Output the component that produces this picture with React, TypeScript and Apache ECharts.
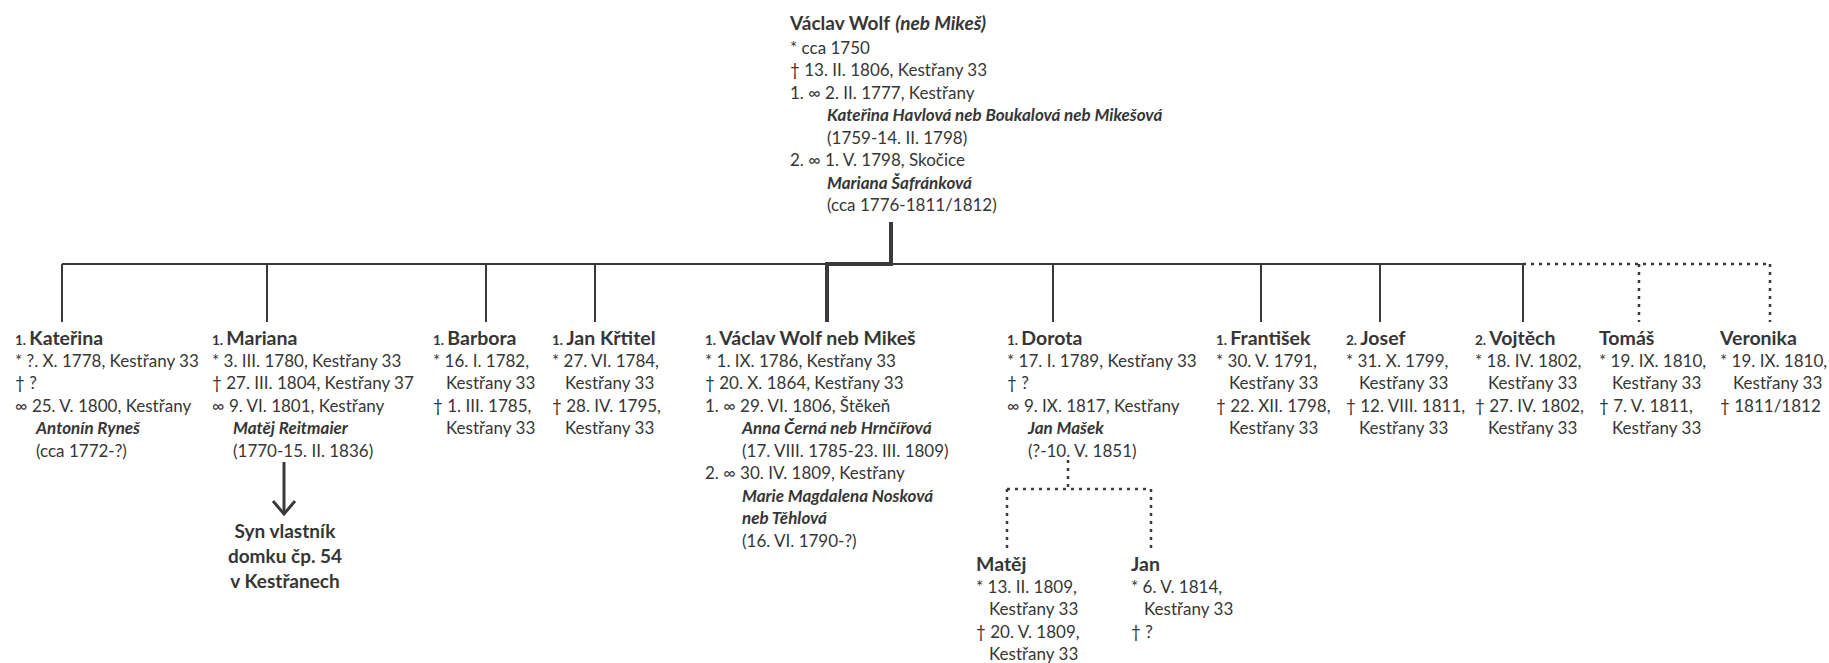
import React, { useEffect, useRef } from "react";
import * as echarts from "echarts";

const FONT = "Lato, 'Noto Sans', sans-serif";
const TEXT = "#363636";
const LINE = "#3a3a3a";

// ---------- data ----------
// roles: t = plain line, c = continuation, s/d = spouse name / dates (after "∞ "), S/D = spouse name / dates (after "1. ∞ ")
type Row = [string, string];

const rootName = "Václav Wolf";
const rootAlias = "(neb Mikeš)";
const rootLines: Row[] = [
  ["t", "* cca 1750"],
  ["t", "† 13. II. 1806, Kestřany 33"],
  ["t", "1. ∞ 2. II. 1777, Kestřany"],
  ["S", "Kateřina Havlová neb Boukalová neb Mikešová"],
  ["D", "(1759-14. II. 1798)"],
  ["t", "2. ∞ 1. V. 1798, Skočice"],
  ["S", "Mariana Šafránková"],
  ["D", "(cca 1776-1811/1812)"],
];

const childMarriage = ["1.", "1.", "1.", "1.", "1.", "1.", "1.", "2.", "2.", "", ""];
const childNames = [
  "Kateřina",
  "Mariana",
  "Barbora",
  "Jan Křtitel",
  "Václav Wolf neb Mikeš",
  "Dorota",
  "František",
  "Josef",
  "Vojtěch",
  "Tomáš",
  "Veronika",
];
const childLines: Row[][] = [
  [["t", "* ?. X. 1778, Kestřany 33"], ["t", "† ?"], ["t", "∞ 25. V. 1800, Kestřany"], ["s", "Antonín Ryneš"], ["d", "(cca 1772-?)"]],
  [["t", "* 3. III. 1780, Kestřany 33"], ["t", "† 27. III. 1804, Kestřany 37"], ["t", "∞ 9. VI. 1801, Kestřany"], ["s", "Matěj Reitmaier"], ["d", "(1770-15. II. 1836)"]],
  [["t", "* 16. I. 1782,"], ["c", "Kestřany 33"], ["t", "† 1. III. 1785,"], ["c", "Kestřany 33"]],
  [["t", "* 27. VI. 1784,"], ["c", "Kestřany 33"], ["t", "† 28. IV. 1795,"], ["c", "Kestřany 33"]],
  [
    ["t", "* 1. IX. 1786, Kestřany 33"],
    ["t", "† 20. X. 1864, Kestřany 33"],
    ["t", "1. ∞ 29. VI. 1806, Štěkeň"],
    ["S", "Anna Černá neb Hrnčířová"],
    ["D", "(17. VIII. 1785-23. III. 1809)"],
    ["t", "2. ∞ 30. IV. 1809, Kestřany"],
    ["S", "Marie Magdalena Nosková"],
    ["S", "neb Těhlová"],
    ["D", "(16. VI. 1790-?)"],
  ],
  [["t", "* 17. I. 1789, Kestřany 33"], ["t", "† ?"], ["t", "∞ 9. IX. 1817, Kestřany"], ["s", "Jan Mašek"], ["d", "(?-10. V. 1851)"]],
  [["t", "* 30. V. 1791,"], ["c", "Kestřany 33"], ["t", "† 22. XII. 1798,"], ["c", "Kestřany 33"]],
  [["t", "* 31. X. 1799,"], ["c", "Kestřany 33"], ["t", "† 12. VIII. 1811,"], ["c", "Kestřany 33"]],
  [["t", "* 18. IV. 1802,"], ["c", "Kestřany 33"], ["t", "† 27. IV. 1802,"], ["c", "Kestřany 33"]],
  [["t", "* 19. IX. 1810,"], ["c", "Kestřany 33"], ["t", "† 7. V. 1811,"], ["c", "Kestřany 33"]],
  [["t", "* 19. IX. 1810,"], ["c", "Kestřany 33"], ["t", "† 1811/1812"]],
];
const childCertain = [true, true, true, true, true, true, true, true, true, false, false];
const heirIndex = 4; // line of descent (thick)

const grandNames = ["Matěj", "Jan"];
const grandLines: Row[][] = [
  [["t", "* 13. II. 1809,"], ["c", "Kestřany 33"], ["t", "† 20. V. 1809,"], ["c", "Kestřany 33"]],
  [["t", "* 6. V. 1814,"], ["c", "Kestřany 33"], ["t", "† ?"]],
];

const noteParentIndex = 1;
const noteLines = ["Syn vlastník", "domku čp. 54", "v Kestřanech"];

// ---------- layout (positions only) ----------
const rootX = 790;
const rootTitleY = 22;
const rootFirstY = 47;
const STEP = 22.5;
const childTextX = [15, 212, 433, 552, 705, 1007, 1216, 1346, 1475, 1599, 1720];
const childDropX = [62, 267, 486, 595, 827, 1053, 1261, 1380, 1523, 1639, 1770];
const barY = 264;
const dropEndY = 322;
const childNameY = 337;
const childFirstY = 360;
const grandTextX = [976, 1131];
const grandDropX = [1007, 1151];
const grandStemX = 1068;
const grandStemTop = 460;
const grandBarY = 489;
const grandDropEnd = 548;
const grandNameY = 563;
const grandFirstY = 586;
const indent: Record<string, number> = { t: 0, c: 13, s: 21, d: 21, S: 37, D: 37 };

const BODY = 17;
const SPOUSE = 17;
const NAME = 19.5;
const TITLE = 19;

function rowEl(x: number, y: number, row: Row) {
  const [role, text] = row;
  const spouse = role === "s" || role === "S";
  return {
    type: "text",
    x: x + indent[role],
    y,
    silent: true,
    style: {
      text,
      fill: TEXT,
      font: spouse ? `italic bold ${SPOUSE}px ${FONT}` : `${BODY}px ${FONT}`,
      textAlign: "left",
      textVerticalAlign: "middle",
      align: "left",
      verticalAlign: "middle",
    },
  };
}

function nameEl(x: number, y: number, order: string, name: string) {
  const text = order ? `{o|${order} }{n|${name}}` : `{n|${name}}`;
  return {
    type: "text",
    x,
    y,
    silent: true,
    style: {
      text,
      fill: TEXT,
      textAlign: "left",
      textVerticalAlign: "middle",
      align: "left",
      verticalAlign: "middle",
      rich: {
        o: { fill: TEXT, color: TEXT, fontSize: 13.5, fontWeight: "bold", fontFamily: FONT, verticalAlign: "bottom" },
        n: { fill: TEXT, color: TEXT, fontSize: NAME, fontWeight: "bold", fontFamily: FONT },
      },
    },
  };
}

function line(x1: number, y1: number, x2: number, y2: number, w: number, dashed = false) {
  return {
    type: "line",
    silent: true,
    shape: { x1, y1, x2, y2 },
    style: { stroke: LINE, lineWidth: w, lineDash: dashed ? [3, 5] : null, lineCap: "butt" },
  };
}

function buildElements() {
  const els: any[] = [];

  // root person
  els.push({
    type: "text",
    x: rootX,
    y: rootTitleY,
    silent: true,
    style: {
      text: `{b|${rootName} }{bi|${rootAlias}}`,
      fill: TEXT,
      textAlign: "left",
      textVerticalAlign: "middle",
      align: "left",
      verticalAlign: "middle",
      rich: {
        b: { fill: TEXT, color: TEXT, fontSize: TITLE, fontWeight: "bold", fontFamily: FONT },
        bi: { fill: TEXT, color: TEXT, fontSize: TITLE, fontWeight: "bold", fontStyle: "italic", fontFamily: FONT },
      },
    },
  });
  rootLines.forEach((r, i) => els.push(rowEl(rootX, rootFirstY + i * STEP, r)));

  // descent from root (thick)
  const heirX = childDropX[heirIndex];
  els.push({
    type: "polyline",
    silent: true,
    shape: { points: [[891, 222], [891, barY], [heirX, barY], [heirX, dropEndY]] },
    style: { stroke: LINE, lineWidth: 4, fill: null, lineJoin: "miter" },
  });

  // sibling bar: solid to last certain child, dotted beyond
  let lastCertain = 0;
  childCertain.forEach((c, i) => { if (c) lastCertain = i; });
  els.push(line(childDropX[0], barY, childDropX[lastCertain], barY, 2));
  els.push(line(childDropX[lastCertain], barY, childDropX[childDropX.length - 1], barY, 2.5, true));

  childNames.forEach((name, i) => {
    if (i !== heirIndex) {
      els.push(line(childDropX[i], barY, childDropX[i], dropEndY, childCertain[i] ? 2 : 2.5, !childCertain[i]));
    }
    els.push(nameEl(childTextX[i], childNameY, childMarriage[i], name));
    childLines[i].forEach((r, k) => els.push(rowEl(childTextX[i], childFirstY + k * STEP, r)));
  });

  // note arrow under Mariana
  const ax = 284;
  const aTop = childFirstY + (childLines[noteParentIndex].length - 1) * STEP + 12;
  const aBot = 514;
  els.push(line(ax, aTop, ax, aBot, 3));
  els.push({
    type: "polyline",
    silent: true,
    shape: { points: [[ax - 11, aBot - 13], [ax, aBot], [ax + 11, aBot - 13]] },
    style: { stroke: LINE, lineWidth: 3, fill: null },
  });
  noteLines.forEach((t, i) =>
    els.push({
      type: "text",
      x: ax + 1,
      y: 530 + i * 25,
      silent: true,
      style: {
        text: t,
        fill: TEXT,
        font: `bold 19px ${FONT}`,
        textAlign: "center",
        textVerticalAlign: "middle",
        align: "center",
        verticalAlign: "middle",
      },
    })
  );

  // Dorota's (uncertain) children
  els.push(line(grandStemX, grandStemTop, grandStemX, grandBarY, 2.5, true));
  els.push(line(grandDropX[0], grandBarY, grandDropX[grandDropX.length - 1], grandBarY, 2.5, true));
  grandNames.forEach((name, i) => {
    els.push(line(grandDropX[i], grandBarY, grandDropX[i], grandDropEnd, 2.5, true));
    els.push(nameEl(grandTextX[i], grandNameY, "", name));
    grandLines[i].forEach((r, k) => els.push(rowEl(grandTextX[i], grandFirstY + k * STEP, r)));
  });

  return els;
}

export default function App() {
  const ref = useRef<HTMLDivElement>(null);
  useEffect(() => {
    if (!ref.current) return;
    const chart = echarts.init(ref.current, undefined, { renderer: "svg" });
    chart.setOption({
      animation: false,
      backgroundColor: "#ffffff",
      graphic: { elements: buildElements() },
    });
    return () => chart.dispose();
  }, []);
  return (
    <div
      ref={ref}
      style={{ position: "fixed", left: 0, top: 0, width: 1829, height: 663, background: "#fff" }}
    />
  );
}
